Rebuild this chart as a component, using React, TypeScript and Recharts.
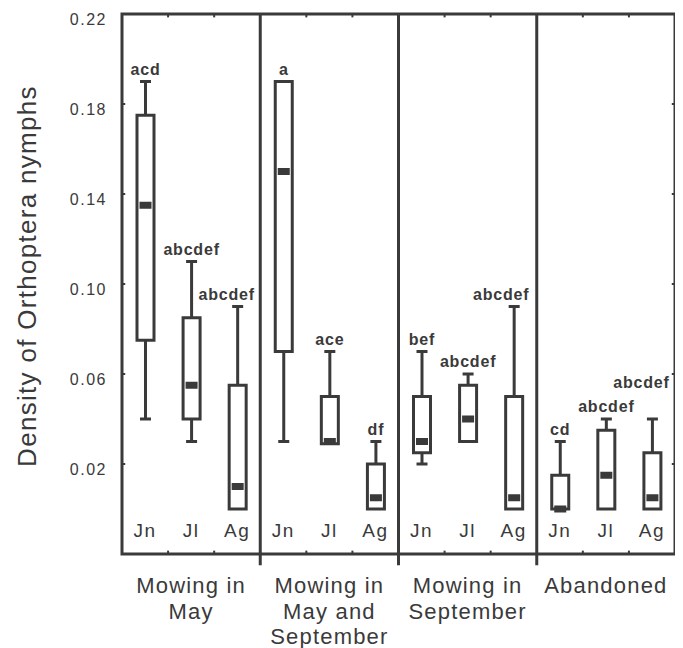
import { Bar, ComposedChart, Label, ReferenceArea, ReferenceLine, XAxis, YAxis } from "recharts";

// sampling months inside each treatment
const months = ["Jn", "Jl", "Ag", "Jn", "Jl", "Ag", "Jn", "Jl", "Ag", "Jn", "Jl", "Ag"];

const treatments = [
  ["Mowing in", "May"],
  ["Mowing in", "May and", "September"],
  ["Mowing in", "September"],
  ["Abandoned"]
];

const whiskerLow = [0.04, 0.03, 0.0, 0.03, 0.029, 0.0, 0.02, 0.03, 0.0, 0.0, 0.0, 0.0];
const lowerQuartile = [0.075, 0.04, 0.0, 0.07, 0.029, 0.0, 0.025, 0.03, 0.0, 0.0, 0.0, 0.0];
const medians = [0.135, 0.055, 0.01, 0.15, 0.03, 0.005, 0.03, 0.04, 0.005, 0.0, 0.015, 0.005];
const upperQuartile = [0.175, 0.085, 0.055, 0.19, 0.05, 0.02, 0.05, 0.055, 0.05, 0.015, 0.035, 0.025];
const whiskerHigh = [0.19, 0.11, 0.09, 0.19, 0.07, 0.03, 0.07, 0.06, 0.09, 0.03, 0.04, 0.04];

const letters = ["acd", "abcdef", "abcdef", "a", "ace", "df", "bef", "abcdef", "abcdef", "cd", "abcdef", "abcdef"];

const yTicks = [0.02, 0.06, 0.1, 0.14, 0.18, 0.22];

const INK = "#3a3a3a";
const FONT = "Arial, 'Liberation Sans', Helvetica, sans-serif";

// a few letter groups are pushed aside so they clear the dividers / neighbours
const labelNudge: Record<number, { dx: number; dy: number }> = {
  2: { dx: -11, dy: 0 },
  8: { dx: -13, dy: 0 },
  11: { dx: -11, dy: -24 }
};

const rows = months.map((month, i) => ({
  pos: i + 0.5,
  month,
  range: [whiskerLow[i], whiskerHigh[i]],
  q1: lowerQuartile[i],
  median: medians[i],
  q3: upperQuartile[i],
  letters: letters[i],
  idx: i
}));

// band edges inside a treatment get small inward ticks on the frame
const innerEdges = [1, 2, 4, 5, 7, 8, 10, 11];

function BoxShape(props: any) {
  const { x, y, width, height, payload } = props;
  const [lo, hi] = payload.range;
  const top = Math.min(y, y + height);
  const bottom = Math.max(y, y + height);
  const py = (v: number) => (hi === lo ? top : bottom - ((v - lo) / (hi - lo)) * (bottom - top));
  const cx = x + width / 2;
  const yHi = py(hi);
  const yQ3 = py(payload.q3);
  const yQ1 = py(payload.q1);
  const yLo = py(lo);
  const yMed = py(payload.median);
  const nudge = labelNudge[payload.idx] ?? { dx: 0, dy: 0 };

  return (
    <g>
      {hi > payload.q3 && (
        <>
          <line x1={cx} x2={cx} y1={yHi} y2={yQ3} stroke={INK} strokeWidth={3} />
          <line x1={cx - 5.5} x2={cx + 5.5} y1={yHi} y2={yHi} stroke={INK} strokeWidth={3} />
        </>
      )}
      {lo < payload.q1 && (
        <>
          <line x1={cx} x2={cx} y1={yQ1} y2={yLo} stroke={INK} strokeWidth={3} />
          <line x1={cx - 5.5} x2={cx + 5.5} y1={yLo} y2={yLo} stroke={INK} strokeWidth={3} />
        </>
      )}
      <rect x={cx - 8.5} y={yQ3} width={17} height={yQ1 - yQ3} fill="#fff" stroke={INK} strokeWidth={3} />
      <rect x={cx - 6} y={yMed - 3.5} width={12} height={7} fill={INK} />
      <text
        x={cx + nudge.dx}
        y={yHi - 7 + nudge.dy}
        textAnchor="middle"
        fontFamily={FONT}
        fontWeight="bold"
        fontSize={16}
        letterSpacing={0.8}
        fill={INK}
      >
        {payload.letters}
      </text>
    </g>
  );
}

function MonthTick({ x, y, payload }: any) {
  return (
    <text x={x} y={y - 17} textAnchor="middle" fontFamily={FONT} fontSize={19} letterSpacing={1.5} fill={INK}>
      {months[Math.floor(payload.value)]}
    </text>
  );
}

function TreatmentTick({ x, y, payload }: any) {
  const lines = treatments[Math.floor(payload.value / 3)];
  return (
    <text textAnchor="middle" fontFamily={FONT} fontSize={22} letterSpacing={1.2} fill={INK}>
      {lines.map((line, i) => (
        <tspan key={line} x={x} y={y + 37 + i * 25.5}>
          {line}
        </tspan>
      ))}
    </text>
  );
}

function DensityTick({ x, y, payload }: any) {
  return (
    <text x={x} y={y + 5} textAnchor="end" dominantBaseline="central" fontFamily={FONT} fontSize={16} letterSpacing={1.5} fill={INK}>
      {payload.value.toFixed(2)}
    </text>
  );
}

function DensityTitle(props: any) {
  const vb = props.viewBox;
  const cx = vb.x + 19;
  const cy = vb.y + vb.height / 2 - 8;
  return (
    <text
      x={cx}
      y={cy}
      transform={`rotate(-90 ${cx} ${cy})`}
      textAnchor="middle"
      dominantBaseline="central"
      fontFamily={FONT}
      fontSize={26}
      letterSpacing={1.3}
      fill={INK}
    >
      Density of Orthoptera nymphs
    </text>
  );
}

export default function App() {
  return (
    <ComposedChart width={675} height={640} data={rows} margin={{ top: 6, right: 8, bottom: 0, left: 0 }}>
      <XAxis
        xAxisId="month"
        dataKey="pos"
        type="number"
        domain={[0, 12]}
        ticks={rows.map((r) => r.pos)}
        tick={<MonthTick />}
        tickSize={0}
        tickMargin={0}
        axisLine={false}
        tickLine={false}
        height={2}
        interval={0}
      />
      <XAxis
        xAxisId="treatment"
        dataKey="pos"
        type="number"
        domain={[0, 12]}
        ticks={[1.5, 4.5, 7.5, 10.5]}
        tick={<TreatmentTick />}
        tickSize={0}
        tickMargin={0}
        axisLine={false}
        tickLine={false}
        height={92}
        interval={0}
      />
      <YAxis
        type="number"
        domain={[-0.02, 0.22]}
        ticks={yTicks}
        tick={<DensityTick />}
        tickSize={0}
        tickMargin={15}
        axisLine={false}
        tickLine={false}
        width={114}
        interval={0}
      >
        <Label content={<DensityTitle />} />
      </YAxis>
      {innerEdges.map((e) => (
        <ReferenceLine
          key={`t${e}`}
          xAxisId="month"
          segment={[
            { x: e, y: 0.22 },
            { x: e, y: 0.2185 }
          ]}
          stroke={INK}
          strokeWidth={2}
        />
      ))}
      {innerEdges.map((e) => (
        <ReferenceLine
          key={`b${e}`}
          xAxisId="month"
          segment={[
            { x: e, y: -0.02 },
            { x: e, y: -0.0185 }
          ]}
          stroke={INK}
          strokeWidth={2}
        />
      ))}
      {yTicks.map((t) => (
        <ReferenceLine
          key={`l${t}`}
          xAxisId="month"
          segment={[
            { x: 0, y: t },
            { x: 0.07, y: t }
          ]}
          stroke={INK}
          strokeWidth={2}
        />
      ))}
      {yTicks.map((t) => (
        <ReferenceLine
          key={`r${t}`}
          xAxisId="month"
          segment={[
            { x: 11.93, y: t },
            { x: 12, y: t }
          ]}
          stroke={INK}
          strokeWidth={2}
        />
      ))}
      <ReferenceArea
        xAxisId="month"
        x1={0}
        x2={12}
        y1={-0.02}
        y2={0.22}
        fill="none"
        fillOpacity={0}
        stroke={INK}
        strokeWidth={3}
        ifOverflow="visible"
      />
      {[3, 6, 9].map((b) => (
        <ReferenceLine
          key={b}
          xAxisId="month"
          segment={[
            { x: b, y: -0.025 },
            { x: b, y: 0.22 }
          ]}
          stroke={INK}
          strokeWidth={3}
          ifOverflow="visible"
        />
      ))}
      <Bar xAxisId="month" dataKey="range" barSize={19} isAnimationActive={false} shape={(p: any) => <BoxShape {...p} />} />
    </ComposedChart>
  );
}
